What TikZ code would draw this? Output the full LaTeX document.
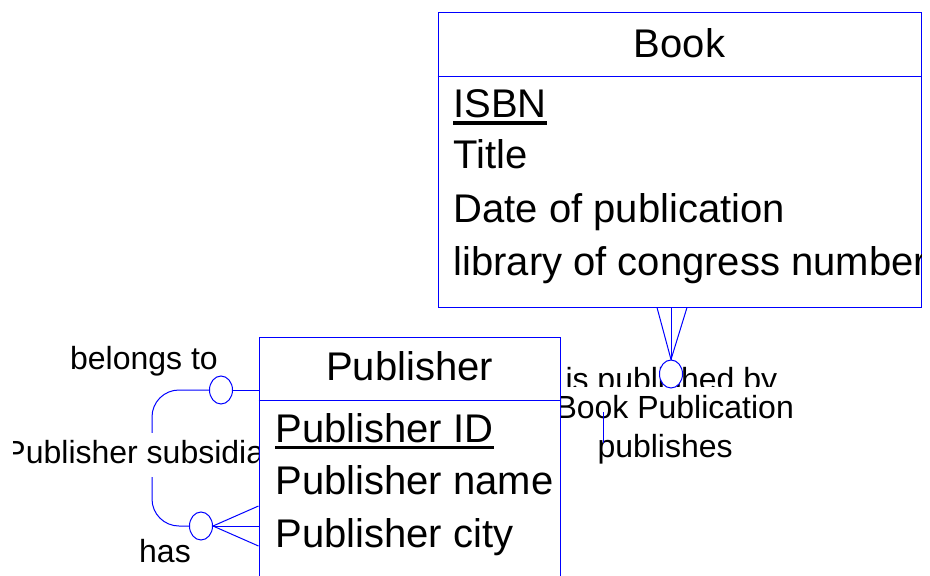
\documentclass[tikz,border=0pt]{standalone}
\usepackage{fontspec}
\setmainfont{Liberation Sans}
\usetikzlibrary{shapes.geometric, positioning}
\newcommand{\entityfont}{\fontsize{40}{48}\selectfont}
\newcommand{\rolefont}{\fontsize{32}{38}\selectfont}

\begin{document}
\begin{tikzpicture}[x=1pt, y=-1pt, line width=1pt,
  entity/.style={draw=blue, fill=white, inner sep=0pt},
  attr/.style={anchor=base west, inner sep=0pt, font=\entityfont},
  role/.style={anchor=base, inner sep=0pt, font=\rolefont},
  optional/.style={ellipse, draw=blue, fill=white, inner sep=0pt, minimum width=23pt, minimum height=28pt}]
  \clip (0,0) rectangle (930,576);

  % recursive relationship on Publisher
  \node[optional] (belongs) at (221,390) {};
  \node[optional] (has) at (201,526) {};
  \draw[blue, rounded corners=27pt] (belongs.west) -- ++(-57,0) |- (has.west);
  \node[role] (belongslbl) at (144,369) {belongs to};
  \node[role] (haslbl) at (165,562) {has};
  \begin{scope}
    \clip (13,0) rectangle (930,576);
    \node[role, anchor=base west, fill=white, inner ysep=7pt] (subsidlbl) at (4,463) {Publisher subsidiary};
  \end{scope}

  % Book Publication relationship
  \node[role, anchor=base west] (isbylbl) at (565,390) {is published by};
  \node[role, anchor=base west, fill=white, inner ysep=8pt] (bookpublbl) at (555,418) {Book Publication};
  \node[role, anchor=base west] (publisheslbl) at (597,457) {publishes};
  \coordinate (pubtop) at (603,412);
  \coordinate (pubbot) at (603,443);
  \draw[blue] (pubtop) -- (pubbot);
  \node[optional] (pubopt) at (671,374) {};

  % Publisher entity
  \node[entity, minimum width=301pt, minimum height=303pt] (publisher) at (409.5,488.5) {};
  \draw[blue] ([yshift=-64pt]publisher.north west) -- ([yshift=-64pt]publisher.north east);
  \node[attr, anchor=base] (publishername) at (409.5,380) {Publisher};
  \node[attr] (pubid) at (275,442) {Publisher ID};
  \draw[line width=3.5pt] ([yshift=-5.5pt]pubid.base west) -- ([yshift=-5.5pt]pubid.base east);
  \node[attr] (pubname) at (275,494) {Publisher name};
  \node[attr] (pubcity) at (275,547) {Publisher city};

  % Book entity
  \node[entity, minimum width=483pt, minimum height=295pt] (book) at (679.5,159.5) {};
  \draw[blue] ([yshift=-65pt]book.north west) -- ([yshift=-65pt]book.north east);
  \node[attr, anchor=base] (bookname) at (679.5,57) {Book};
  \begin{scope}
    \clip (book.north west) rectangle (book.south east);
    \node[attr] (isbn) at (453,117) {ISBN};
    \draw[line width=3.5pt] ([yshift=-6pt]isbn.base west) -- ([yshift=-6pt]isbn.base east);
    \node[attr] (title) at (453,168) {Title};
    \node[attr] (pubdate) at (453,222) {Date of publication};
    \node[attr] (locnum) at (453,275) {library of congress number};
  \end{scope}

  % connectors
  \draw[blue] (belongs.east) -- (belongs.east -| publisher.west);
  \coordinate (hasfoot) at (has.east -| publisher.west);
  \draw[blue] (has.east) -- ([yshift=20pt]hasfoot);
  \draw[blue] (has.east) -- (hasfoot);
  \draw[blue] (has.east) -- ([yshift=-20pt]hasfoot);
  \coordinate (bookfoot) at (book.south -| pubopt.north);
  \draw[blue] (pubopt.north) -- ([xshift=-14pt]bookfoot);
  \draw[blue] (pubopt.north) -- (bookfoot);
  \draw[blue] (pubopt.north) -- ([xshift=16pt]bookfoot);
\end{tikzpicture}
\end{document}
